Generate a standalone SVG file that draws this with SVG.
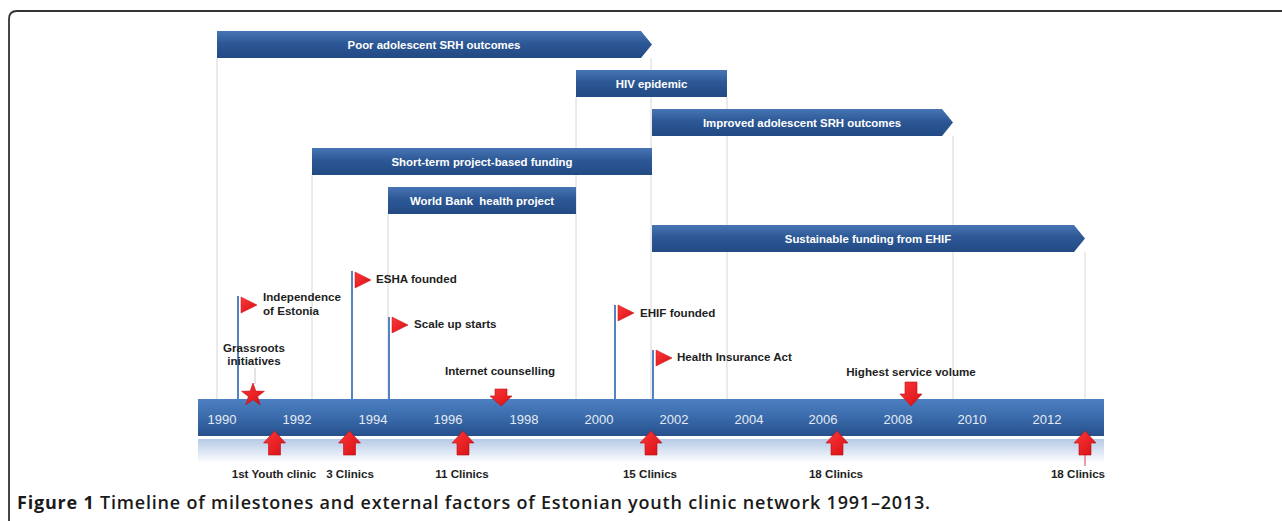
<svg xmlns="http://www.w3.org/2000/svg" xmlns:xlink="http://www.w3.org/1999/xlink" width="1282" height="521" viewBox="0 0 1282 521">
<defs>
<linearGradient id="barG" x1="0" y1="0" x2="0" y2="1">
<stop offset="0" stop-color="#4775b3"/>
<stop offset="0.45" stop-color="#2d5896"/>
<stop offset="1" stop-color="#224a84"/>
</linearGradient>
<linearGradient id="tlG" x1="0" y1="0" x2="0" y2="1">
<stop offset="0" stop-color="#4d80c2"/>
<stop offset="0.5" stop-color="#3a6aaa"/>
<stop offset="1" stop-color="#26508c"/>
</linearGradient>
<linearGradient id="reflG" x1="0" y1="0" x2="0" y2="1">
<stop offset="0" stop-color="#b5c9e6"/>
<stop offset="1" stop-color="#ffffff"/>
</linearGradient>
<linearGradient id="redG" x1="0" y1="0" x2="1" y2="1">
<stop offset="0" stop-color="#ff3a3a"/>
<stop offset="1" stop-color="#d40d12"/>
</linearGradient>
<path id="upArrow" d="M0,0 L11,12 L6,12 L6,24 L-6,24 L-6,12 L-11,12 Z"/>
</defs>
<style>
.bar{fill:url(#barG);}
.bt{font-family:"Liberation Sans",Arial,sans-serif;font-weight:bold;font-size:11.4px;fill:#ffffff;text-anchor:middle;}
.grid{stroke:#d6d6d6;stroke-width:1;fill:none;}
.pole{stroke:#5583c0;stroke-width:2;}
.flag{fill:url(#redG);stroke:#c80c10;stroke-width:0.5;}
.lbl{font-family:"Liberation Sans",Arial,sans-serif;font-weight:bold;font-size:11.6px;fill:#1e1e1e;}
.ctr{text-anchor:middle;}
.yr{font-family:"Liberation Sans",Arial,sans-serif;font-size:13px;fill:#e4ebf5;text-anchor:middle;}
.arr{fill:url(#redG);stroke:#c00c10;stroke-width:0.6;}
.cap{font-family:"Open Sans","Liberation Sans",Arial,sans-serif;font-size:18px;fill:#1a1a1a;}
</style>

<path d="M9,521 L9,19 Q9,11 17,11 L1282,11" fill="none" stroke="#333333" stroke-width="1.8"/>

<g id="connectors">
<line class="grid" x1="217" y1="58" x2="217" y2="399"/>
<line class="grid" x1="312" y1="175" x2="312" y2="399"/>
<line class="grid" x1="388" y1="213" x2="388" y2="399"/>
<line class="grid" x1="576" y1="97" x2="576" y2="399"/>
<line class="grid" x1="651" y1="58" x2="651" y2="399"/>
<line class="grid" x1="727" y1="97" x2="727" y2="399"/>
<line class="grid" x1="953" y1="136" x2="953" y2="399"/>
<line class="grid" x1="1085" y1="252" x2="1085" y2="399"/>
</g>

<g id="bar-poor">
<path class="bar" d="M217,31 L641,31 L652,44.5 L641,58 L217,58 Z"/>
<text class="bt" x="434" y="49">Poor adolescent SRH outcomes</text>
</g>
<g id="bar-hiv">
<rect class="bar" x="576" y="70" width="151" height="27"/>
<text class="bt" x="651.5" y="88">HIV epidemic</text>
</g>
<g id="bar-improved">
<path class="bar" d="M652,109 L942,109 L953,122.5 L942,136 L652,136 Z"/>
<text class="bt" x="802" y="127">Improved adolescent SRH outcomes</text>
</g>
<g id="bar-shortterm">
<rect class="bar" x="312" y="148" width="340" height="27"/>
<text class="bt" x="482" y="166">Short-term project-based funding</text>
</g>
<g id="bar-worldbank">
<rect class="bar" x="388" y="187" width="188" height="27"/>
<text class="bt" x="482" y="205" xml:space="preserve">World Bank  health project</text>
</g>
<g id="bar-sustainable">
<path class="bar" d="M652,225 L1074,225 L1085,238.5 L1074,252 L652,252 Z"/>
<text class="bt" x="868" y="243">Sustainable funding from EHIF</text>
</g>

<g id="timeline">
<rect x="198" y="399" width="906" height="37" fill="url(#tlG)"/>
<rect x="198" y="439" width="906" height="24" fill="url(#reflG)"/>
<text class="yr" x="222" y="424">1990</text>
<text class="yr" x="297" y="424">1992</text>
<text class="yr" x="373" y="424">1994</text>
<text class="yr" x="448" y="424">1996</text>
<text class="yr" x="524" y="424">1998</text>
<text class="yr" x="599" y="424">2000</text>
<text class="yr" x="674" y="424">2002</text>
<text class="yr" x="749" y="424">2004</text>
<text class="yr" x="823" y="424">2006</text>
<text class="yr" x="898" y="424">2008</text>
<text class="yr" x="972" y="424">2010</text>
<text class="yr" x="1047" y="424">2012</text>
</g>

<g id="flag-independence">
<line class="pole" x1="238" y1="296" x2="238" y2="399"/>
<polygon class="flag" points="241,297 241,313 257,305"/>
<text class="lbl" x="263" y="301">Independence</text>
<text class="lbl" x="263" y="315">of Estonia</text>
</g>
<g id="flag-esha">
<line class="pole" x1="352" y1="271" x2="352" y2="399"/>
<polygon class="flag" points="355,272 355,288 371,280"/>
<text class="lbl" x="376" y="283">ESHA founded</text>
</g>
<g id="flag-scaleup">
<line class="pole" x1="389" y1="317" x2="389" y2="399"/>
<polygon class="flag" points="392,317 392,333 408,325"/>
<text class="lbl" x="414" y="328">Scale up starts</text>
</g>
<g id="flag-ehif">
<line class="pole" x1="615" y1="305" x2="615" y2="399"/>
<polygon class="flag" points="618,305 618,321 634,313"/>
<text class="lbl" x="640" y="317">EHIF founded</text>
</g>
<g id="flag-hia">
<line class="pole" x1="653" y1="350" x2="653" y2="399"/>
<polygon class="flag" points="656,350 656,366 672,358"/>
<text class="lbl" x="677" y="361">Health Insurance Act</text>
</g>

<g id="grassroots">
<text class="lbl ctr" x="254" y="352">Grassroots</text>
<text class="lbl ctr" x="254" y="365">initiatives</text>
<line x1="255" y1="368" x2="255" y2="384" stroke="#c8c8c8" stroke-width="1"/>
<polygon class="arr" points="253,383 255.8,391.1 264.4,391.3 257.6,396.5 260.1,404.7 253,399.8 245.9,404.7 248.4,396.5 241.6,391.3 250.2,391.1"/>
</g>

<g id="internet">
<text class="lbl ctr" x="500" y="375">Internet counselling</text>
<path class="arr" d="M501,406 L490,396 L495,396 L495,389 L507,389 L507,396 L512,396 Z"/>
</g>
<g id="highest">
<text class="lbl ctr" x="911" y="376">Highest service volume</text>
<path class="arr" d="M911,406 L900,394 L905,394 L905,382 L917,382 L917,394 L922,394 Z"/>
</g>

<g id="clinics-1991">
<use href="#upArrow" class="arr" x="274.5" y="431"/>
<text class="lbl ctr" x="274" y="478">1st Youth clinic</text>
</g>
<g id="clinics-1993">
<use href="#upArrow" class="arr" x="349.5" y="431"/>
<text class="lbl ctr" x="350" y="478">3 Clinics</text>
</g>
<g id="clinics-1996">
<use href="#upArrow" class="arr" x="463" y="431"/>
<text class="lbl ctr" x="462" y="478">11 Clinics</text>
</g>
<g id="clinics-2001">
<use href="#upArrow" class="arr" x="651" y="431"/>
<text class="lbl ctr" x="650" y="478">15 Clinics</text>
</g>
<g id="clinics-2006">
<use href="#upArrow" class="arr" x="837" y="431"/>
<text class="lbl ctr" x="836" y="478">18 Clinics</text>
</g>
<g id="clinics-2013">
<line x1="1085" y1="455" x2="1085" y2="466" stroke="#e0404a" stroke-width="1"/>
<use href="#upArrow" class="arr" x="1085" y="431"/>
<text class="lbl ctr" x="1078" y="478">18 Clinics</text>
</g>

<text class="cap" x="17" y="509" textLength="913" lengthAdjust="spacing"><tspan font-weight="bold">Figure 1</tspan><tspan font-weight="600"> Timeline of milestones and external factors of Estonian youth clinic network 1991–2013.</tspan></text>
</svg>
